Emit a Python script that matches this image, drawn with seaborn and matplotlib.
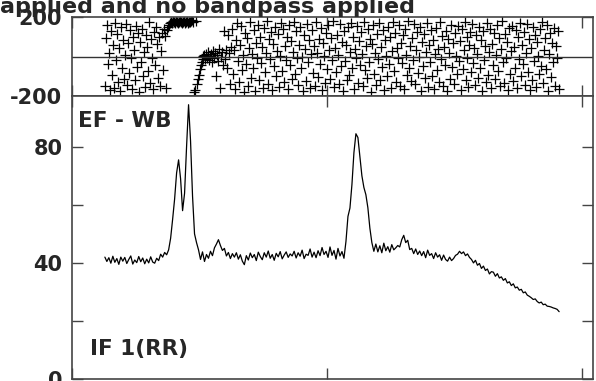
import matplotlib
matplotlib.use("Agg")
import matplotlib.pyplot as plt
import numpy as np
import pandas as pd
import seaborn as sns
from matplotlib.ticker import MultipleLocator, NullFormatter

# amplitude spectrum: first channel 33, one value every 2 channels
amp_first_chan = 33
amp_step = 2
amplitude = [
    42.0, 40.5, 41.8, 39.9, 42.3, 40.2, 41.5, 39.5, 42.0, 40.6,
    41.9, 39.8, 41.2, 42.4, 39.6, 41.0, 40.1, 42.2, 40.4, 41.7,
    39.7, 41.3, 40.0, 42.1, 40.3, 39.9, 41.6, 40.8, 43.0, 42.0,
    43.6, 42.8,
    # first (double) line
    44.5, 48.5, 55.0, 62.0, 71.0, 75.5, 69.0, 58.0, 64.0, 80.0,
    94.5, 82.0, 63.0, 50.0, 47.0, 44.5,
    41.2, 43.8, 40.5, 42.9, 41.6, 44.0, 42.5, 45.2, 46.5, 48.0,
    46.0, 44.3, 45.0, 42.4, 43.6, 41.5, 43.2,
    42.0, 43.5, 41.3, 42.8, 40.6, 39.4, 42.5, 41.0, 43.4, 41.8,
    42.9, 40.8, 43.7, 42.2, 41.1, 43.5, 42.0, 44.1, 41.6, 42.9,
    40.9, 43.3, 42.1, 43.9, 41.4, 42.7, 43.8, 41.9, 43.1, 42.4,
    44.0, 41.7, 43.5, 42.3, 44.4, 41.5, 43.0, 42.6, 44.8, 42.0,
    43.7, 41.8, 44.2, 42.5, 45.3, 42.9, 44.0, 41.9, 45.5, 42.6,
    44.3, 41.3, 45.0, 42.4, 43.9, 41.6,
    # second line
    47.4, 56.0, 58.9, 67.0, 78.0, 84.5, 83.2, 76.5, 70.0, 66.0,
    63.5, 59.0, 52.0, 47.0, 44.0,
    46.5, 43.8, 45.9, 43.5, 46.8, 44.2, 45.6, 43.7, 46.3, 44.5,
    45.2, 46.0, 45.5, 48.0, 49.5, 47.0, 47.8, 44.6, 45.0, 43.2,
    44.8, 42.9, 44.1, 42.5, 43.9, 41.8, 44.4, 42.6, 43.2, 41.5,
    43.5, 42.0, 42.8, 40.9, 42.7, 41.2, 40.6, 42.0, 40.8, 41.5,
    42.6,
    43.0, 44.0, 43.2, 43.8, 42.5, 43.1, 41.9,
    # band edge roll-off
    41.2, 40.0, 40.9, 39.2, 39.8, 38.1, 38.9, 37.4, 37.9, 36.2,
    37.0, 36.8, 35.4, 36.3, 34.8, 35.2, 34.0, 34.6, 33.1, 33.5,
    32.2, 32.8, 31.4, 31.7, 30.6, 30.9, 29.7, 30.0, 28.9, 28.5,
    28.0, 27.4, 27.6, 26.7, 26.2, 26.5, 25.6, 25.8, 25.1, 25.0,
    24.8, 24.5, 24.3, 24.0, 23.2,
]

# phase (deg), one value per channel starting at channel 33
phase_first_chan = 33
phase_deg = [
    -150, 95, 160, -40, 20, -170, 130, -95, 60, -160,
    170, -20, 115, -130, 45, -175, 150, -60, 85, -115,
    10, 165, -145, 70, -85, 135, -10, -165, 100, 35,
    -120, 155, -55, 120, -180, 75, -30, 140, -100, 25,
    -155, 110, 50, -75, 175, -135, 90, -5, -165, 125,
    -45, 150, 65, -110, 100, -150, 30, 120, -70, 140,
    105, -160, 135, 150, 160,
    # coherent at the first line
    172, 176, 170, 178, 174, 168, 180, 175, 171, 177,
    182, 173, 169, 176, 179, 172, 175, 181, 170, 177,
    174, 179, 183, 176,
    -182, -168, 180, -140, -115, -92, -62, -45, -28, -12, 3,
    8, -15, 12, -5, 22, -20, 5, 15, -30, 30,
    -8, 18, -100, 10, -25, 40, -160, 0, 25, -45,
    130, -15, 35, -60, 110, 20, -140, 50,
    # noise
    140, -90, 35, -165, 85, 170, -25, -130, 60, 155, -70, 10, -180, 120, -40, 95, -150, 45, 175, -110,
    15, -60, 135, -175, 70, -5, 160, -120, 100, -35, 50, -160, 145, -80, 20, 180, -140, 90, -15, 125,
    -170, 65, -50, 150, -100, 30, 115, -155, 5, 170, -75, 140, -130, 55, -20, 100, -165, 160, -45, 80,
    -115, 25, 175, -90, 130, -10, -145, 60, 150, -60, 0, -175, 110, 40, -125, 165, -30, 85, -160, 15,
    135, -85, 55, -150, 175, 20, -105, 90, -40, 145, -170, 70, 5, -135, 120, -65, 160, 35, -115, 95,
    -20, 180, -155, 45, -80, 110, 10, -140, 165, -50, 75, -175, 130, -25, 60, -120, 150, -95, 25, 170,
    -60, 100, -165, 40, -10, 155, -135, 80, -45, 125, 15, -150, 175, -70, 55, -110, 140, -30, 90, -180,
    65, 160, -90, 20, -145, 115, -15, 170, -120, 50, -55, 135, -170, 85, 5, -100, 150, -40, 100, -160,
    30, 175, -75, 120, -130, 45, -5, 160, -150, 70, -35, 110, -165, 140, 10, -95, 180, -60, 55, -125,
    95, -20, 165, -140, 35, 125, -85, 0, 150, -175, 75, -50, 115, -110, 25, 170, -155, 60, -30, 135,
    -100, 85, -165, 15, 145, -70, 40, -130, 175, -15, 105, -150, 50, -45, 130, -175, 90, 20, -115, 160,
    -55, 70, -140, 120, 5, -90, 155, -25, 80, -170, 140, -65, 35, 175, -120, 100, -10, -155, 60, 125,
    -80, 165, -35, 45, -145, 110, 15, -110, 150, -60, 85, -175, 130, -20, 55, -130, 170, -95, 25, 140,
    -160, 65, -45, 120, -115, 10, 160, -75, 95, -150, 40, 180, -30, -135, 115, -5, 75, -170, 145, -90,
    30, 155, -125, 50, -60, 135, -160, 100, -15, 170, -100, 60, -40, 125, -145, 20, 165, -80, 90, -170,
    45, -120, 150, -25, 110, -155, 75, 5, -90, 140, -50, 175, -135, 35, 95, -65, 160, -175, 15, 120,
    -105, 70, -30, 145, -150, 55, -10, 130, -165,
]

title_text = "applied and no bandpass applied"
source_label = "EF - WB"
if_label = "IF 1(RR)"

chan_ticks = [0, 256, 512]
phase_ticks = [-200, 200]
amp_ticks = [0, 40, 80]

sns.set_style("ticks")
plt.rcParams["font.family"] = ["DejaVu Sans"]
plt.rcParams["font.weight"] = "bold"
plt.rcParams["axes.unicode_minus"] = False

df_amp = pd.DataFrame({
    "chan": amp_first_chan + amp_step * np.arange(len(amplitude)),
    "amp": amplitude,
})
df_ph = pd.DataFrame({
    "chan": phase_first_chan + np.arange(len(phase_deg)),
    "phase": phase_deg,
})

fig = plt.figure(figsize=(5.96, 3.81), dpi=100)
ax_ph = fig.add_axes([0.1208, 0.748, 0.8742, 0.2073])
ax_amp = fig.add_axes([0.1208, 0.0052, 0.8742, 0.7428])

sns.scatterplot(data=df_ph, x="chan", y="phase", marker="+", s=60,
                color="black", linewidth=0.9, ax=ax_ph, legend=False)
ax_ph.axhline(0, color="#333333", lw=1)
sns.lineplot(data=df_amp, x="chan", y="amp", color="black", lw=0.9, ax=ax_amp)

spine_col = "#444444"
for ax in (ax_ph, ax_amp):
    ax.set_xlim(0, 523)
    ax.set_xticks(chan_ticks)
    ax.xaxis.set_major_formatter(NullFormatter())
    ax.tick_params(which="both", direction="in", length=8, width=1,
                   color=spine_col, top=True, right=True,
                   labelsize=15, pad=7)
    ax.set_xlabel("")
    ax.set_ylabel("")
    for sp in ax.spines.values():
        sp.set_color(spine_col)
        sp.set_linewidth(1.2)

ax_ph.set_ylim(-200, 200)
ax_ph.set_yticks(phase_ticks)

ax_amp.set_ylim(0, 97.5)
ax_amp.set_yticks(amp_ticks)
ax_amp.yaxis.set_minor_locator(MultipleLocator(20))

ax_amp.text(0.0115, 0.89, source_label, transform=ax_amp.transAxes,
            fontsize=15.5, fontweight="bold", va="baseline")
ax_amp.text(0.0345, 0.085, if_label, transform=ax_amp.transAxes,
            fontsize=15.5, fontweight="bold", va="baseline")

fig.text(0.696, 0.966, title_text, ha="right", va="baseline",
         fontsize=16, fontweight="bold")

fig.savefig("out.png", dpi=100)
